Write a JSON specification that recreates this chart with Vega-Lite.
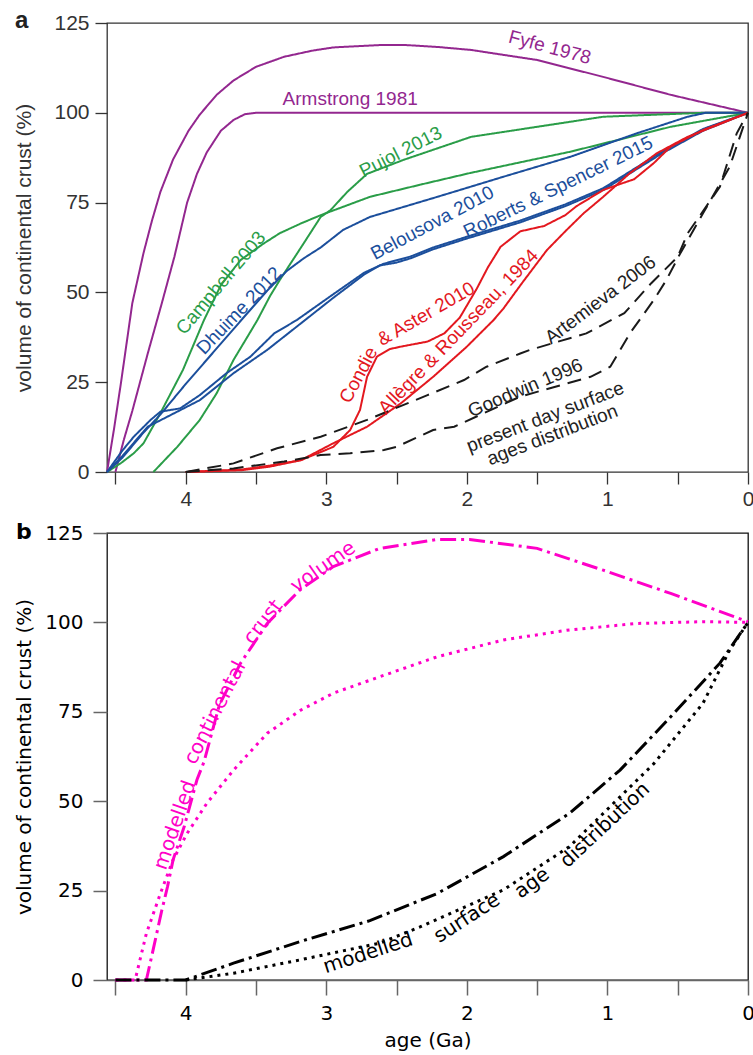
{
  "$schema": "https://vega.github.io/schema/vega-lite/v6.json",
  "padding": {"left": 13, "top": 8, "right": 5, "bottom": 5},
  "bounds": "flush",
  "spacing": 61,
  "background": "white",
  "resolve": {"scale": {"color": "independent", "strokeDash": "independent"}},
  "config": {"axis": {"grid": false}, "view": {"stroke": "#333", "strokeWidth": 1.3}},
  "datasets": {
    "curvesA": [
      {"s":"Fyfe 1978","age":4.56,"vol":0},{"s":"Fyfe 1978","age":4.51,"vol":12},{"s":"Fyfe 1978","age":4.46,"vol":25},{"s":"Fyfe 1978","age":4.38,"vol":47},{"s":"Fyfe 1978","age":4.30,"vol":61},{"s":"Fyfe 1978","age":4.24,"vol":70},{"s":"Fyfe 1978","age":4.18,"vol":78},{"s":"Fyfe 1978","age":4.09,"vol":87},{"s":"Fyfe 1978","age":3.98,"vol":95},{"s":"Fyfe 1978","age":3.90,"vol":99.5},{"s":"Fyfe 1978","age":3.78,"vol":105},{"s":"Fyfe 1978","age":3.66,"vol":109},{"s":"Fyfe 1978","age":3.50,"vol":112.8},{"s":"Fyfe 1978","age":3.30,"vol":115.6},{"s":"Fyfe 1978","age":3.10,"vol":117.3},{"s":"Fyfe 1978","age":2.95,"vol":118.2},{"s":"Fyfe 1978","age":2.60,"vol":118.9},{"s":"Fyfe 1978","age":2.45,"vol":118.9},{"s":"Fyfe 1978","age":2.20,"vol":118.3},{"s":"Fyfe 1978","age":1.97,"vol":117.5},{"s":"Fyfe 1978","age":1.50,"vol":114.7},{"s":"Fyfe 1978","age":1.03,"vol":110},{"s":"Fyfe 1978","age":0.55,"vol":105},{"s":"Fyfe 1978","age":0,"vol":100},
      {"s":"Armstrong 1981","age":4.50,"vol":0},{"s":"Armstrong 1981","age":4.44,"vol":9},{"s":"Armstrong 1981","age":4.38,"vol":17},{"s":"Armstrong 1981","age":4.27,"vol":33},{"s":"Armstrong 1981","age":4.17,"vol":47},{"s":"Armstrong 1981","age":4.08,"vol":60},{"s":"Armstrong 1981","age":3.99,"vol":75},{"s":"Armstrong 1981","age":3.92,"vol":83},{"s":"Armstrong 1981","age":3.85,"vol":89},{"s":"Armstrong 1981","age":3.75,"vol":95},{"s":"Armstrong 1981","age":3.66,"vol":98},{"s":"Armstrong 1981","age":3.58,"vol":99.6},{"s":"Armstrong 1981","age":3.50,"vol":100},{"s":"Armstrong 1981","age":0,"vol":100},
      {"s":"Campbell 2003","age":4.56,"vol":0},{"s":"Campbell 2003","age":4.46,"vol":2.5},{"s":"Campbell 2003","age":4.37,"vol":5.2},{"s":"Campbell 2003","age":4.30,"vol":8},{"s":"Campbell 2003","age":4.18,"vol":16.4},{"s":"Campbell 2003","age":4.02,"vol":28.4},{"s":"Campbell 2003","age":3.87,"vol":42.3},{"s":"Campbell 2003","age":3.75,"vol":52},{"s":"Campbell 2003","age":3.61,"vol":59},{"s":"Campbell 2003","age":3.45,"vol":63.5},{"s":"Campbell 2003","age":3.33,"vol":66.5},{"s":"Campbell 2003","age":3.18,"vol":69.2},{"s":"Campbell 2003","age":3.04,"vol":71.5},{"s":"Campbell 2003","age":2.69,"vol":76.6},{"s":"Campbell 2003","age":2.33,"vol":80},{"s":"Campbell 2003","age":1.97,"vol":83.3},{"s":"Campbell 2003","age":1.26,"vol":89.2},{"s":"Campbell 2003","age":0.55,"vol":96.1},{"s":"Campbell 2003","age":0,"vol":100},
      {"s":"Pujol 2013","age":4.23,"vol":0},{"s":"Pujol 2013","age":4.06,"vol":7},{"s":"Pujol 2013","age":3.90,"vol":14.5},{"s":"Pujol 2013","age":3.78,"vol":21.9},{"s":"Pujol 2013","age":3.66,"vol":31.2},{"s":"Pujol 2013","age":3.56,"vol":37.7},{"s":"Pujol 2013","age":3.49,"vol":42.3},{"s":"Pujol 2013","age":3.40,"vol":49},{"s":"Pujol 2013","age":3.33,"vol":53.5},{"s":"Pujol 2013","age":3.18,"vol":62.5},{"s":"Pujol 2013","age":3.04,"vol":71},{"s":"Pujol 2013","age":2.97,"vol":72.9},{"s":"Pujol 2013","age":2.85,"vol":78},{"s":"Pujol 2013","age":2.71,"vol":83},{"s":"Pujol 2013","age":2.45,"vol":86.9},{"s":"Pujol 2013","age":1.97,"vol":93.3},{"s":"Pujol 2013","age":1.50,"vol":96.1},{"s":"Pujol 2013","age":1.03,"vol":98.9},{"s":"Pujol 2013","age":0.32,"vol":100},{"s":"Pujol 2013","age":0,"vol":100},
      {"s":"Dhuime 2012","age":4.56,"vol":0},{"s":"Dhuime 2012","age":4.45,"vol":4},{"s":"Dhuime 2012","age":4.30,"vol":11},{"s":"Dhuime 2012","age":4.18,"vol":16},{"s":"Dhuime 2012","age":4.00,"vol":24.5},{"s":"Dhuime 2012","age":3.80,"vol":33.5},{"s":"Dhuime 2012","age":3.60,"vol":42.5},{"s":"Dhuime 2012","age":3.42,"vol":50.5},{"s":"Dhuime 2012","age":3.28,"vol":56},{"s":"Dhuime 2012","age":3.16,"vol":59.5},{"s":"Dhuime 2012","age":3.04,"vol":62.5},{"s":"Dhuime 2012","age":2.88,"vol":67.4},{"s":"Dhuime 2012","age":2.69,"vol":71},{"s":"Dhuime 2012","age":2.21,"vol":76.6},{"s":"Dhuime 2012","age":1.74,"vol":82.2},{"s":"Dhuime 2012","age":1.26,"vol":87.8},{"s":"Dhuime 2012","age":0.79,"vol":94.3},{"s":"Dhuime 2012","age":0.43,"vol":98.9},{"s":"Dhuime 2012","age":0.30,"vol":100},{"s":"Dhuime 2012","age":0,"vol":100},
      {"s":"Belousova 2010","age":4.56,"vol":0},{"s":"Belousova 2010","age":4.45,"vol":6},{"s":"Belousova 2010","age":4.37,"vol":9.8},{"s":"Belousova 2010","age":4.25,"vol":14.5},{"s":"Belousova 2010","age":4.18,"vol":16.8},{"s":"Belousova 2010","age":4.04,"vol":17.7},{"s":"Belousova 2010","age":3.90,"vol":21.4},{"s":"Belousova 2010","age":3.71,"vol":27.5},{"s":"Belousova 2010","age":3.54,"vol":32.1},{"s":"Belousova 2010","age":3.37,"vol":38.6},{"s":"Belousova 2010","age":3.21,"vol":42.3},{"s":"Belousova 2010","age":2.95,"vol":49.5},{"s":"Belousova 2010","age":2.73,"vol":55.5},{"s":"Belousova 2010","age":2.59,"vol":58},{"s":"Belousova 2010","age":2.40,"vol":60},{"s":"Belousova 2010","age":2.24,"vol":62.5},{"s":"Belousova 2010","age":2.00,"vol":65.5},{"s":"Belousova 2010","age":1.62,"vol":70},{"s":"Belousova 2010","age":1.30,"vol":74.5},{"s":"Belousova 2010","age":1.03,"vol":79},{"s":"Belousova 2010","age":0.62,"vol":89},{"s":"Belousova 2010","age":0.32,"vol":95.5},{"s":"Belousova 2010","age":0,"vol":100},
      {"s":"Roberts & Spencer 2015","age":4.56,"vol":0},{"s":"Roberts & Spencer 2015","age":4.45,"vol":4.5},{"s":"Roberts & Spencer 2015","age":4.27,"vol":12.6},{"s":"Roberts & Spencer 2015","age":4.13,"vol":15.4},{"s":"Roberts & Spencer 2015","age":3.90,"vol":20},{"s":"Roberts & Spencer 2015","age":3.66,"vol":27.5},{"s":"Roberts & Spencer 2015","age":3.42,"vol":34},{"s":"Roberts & Spencer 2015","age":3.18,"vol":41.4},{"s":"Roberts & Spencer 2015","age":2.95,"vol":48.5},{"s":"Roberts & Spencer 2015","age":2.73,"vol":55},{"s":"Roberts & Spencer 2015","age":2.62,"vol":57.5},{"s":"Roberts & Spencer 2015","age":2.50,"vol":58.3},{"s":"Roberts & Spencer 2015","age":2.40,"vol":59.5},{"s":"Roberts & Spencer 2015","age":2.24,"vol":62},{"s":"Roberts & Spencer 2015","age":2.00,"vol":65},{"s":"Roberts & Spencer 2015","age":1.62,"vol":69.5},{"s":"Roberts & Spencer 2015","age":1.30,"vol":74},{"s":"Roberts & Spencer 2015","age":1.03,"vol":78.5},{"s":"Roberts & Spencer 2015","age":0.62,"vol":88.5},{"s":"Roberts & Spencer 2015","age":0.32,"vol":95},{"s":"Roberts & Spencer 2015","age":0,"vol":100},
      {"s":"Condie & Aster 2010","age":4.00,"vol":0},{"s":"Condie & Aster 2010","age":3.60,"vol":0.5},{"s":"Condie & Aster 2010","age":3.40,"vol":1.5},{"s":"Condie & Aster 2010","age":3.18,"vol":3.3},{"s":"Condie & Aster 2010","age":2.95,"vol":7},{"s":"Condie & Aster 2010","age":2.83,"vol":11.7},{"s":"Condie & Aster 2010","age":2.76,"vol":17.3},{"s":"Condie & Aster 2010","age":2.71,"vol":26.5},{"s":"Condie & Aster 2010","age":2.64,"vol":32.1},{"s":"Condie & Aster 2010","age":2.55,"vol":34.2},{"s":"Condie & Aster 2010","age":2.47,"vol":34.9},{"s":"Condie & Aster 2010","age":2.28,"vol":36.3},{"s":"Condie & Aster 2010","age":2.16,"vol":38.6},{"s":"Condie & Aster 2010","age":2.05,"vol":43},{"s":"Condie & Aster 2010","age":1.93,"vol":51},{"s":"Condie & Aster 2010","age":1.85,"vol":57},{"s":"Condie & Aster 2010","age":1.76,"vol":62.7},{"s":"Condie & Aster 2010","age":1.62,"vol":67},{"s":"Condie & Aster 2010","age":1.45,"vol":68.5},{"s":"Condie & Aster 2010","age":1.30,"vol":71.5},{"s":"Condie & Aster 2010","age":1.22,"vol":74},{"s":"Condie & Aster 2010","age":1.03,"vol":78.5},{"s":"Condie & Aster 2010","age":0.90,"vol":80.3},{"s":"Condie & Aster 2010","age":0.81,"vol":81.5},{"s":"Condie & Aster 2010","age":0.67,"vol":86},{"s":"Condie & Aster 2010","age":0.55,"vol":90.6},{"s":"Condie & Aster 2010","age":0.32,"vol":95.2},{"s":"Condie & Aster 2010","age":0,"vol":100},
      {"s":"Allègre & Rousseau 1984","age":4.00,"vol":0},{"s":"Allègre & Rousseau 1984","age":3.60,"vol":0.7},{"s":"Allègre & Rousseau 1984","age":3.40,"vol":1.8},{"s":"Allègre & Rousseau 1984","age":3.18,"vol":3.3},{"s":"Allègre & Rousseau 1984","age":2.95,"vol":8},{"s":"Allègre & Rousseau 1984","age":2.71,"vol":12.6},{"s":"Allègre & Rousseau 1984","age":2.47,"vol":19.1},{"s":"Allègre & Rousseau 1984","age":2.24,"vol":26.5},{"s":"Allègre & Rousseau 1984","age":2.00,"vol":34.9},{"s":"Allègre & Rousseau 1984","age":1.81,"vol":42.3},{"s":"Allègre & Rousseau 1984","age":1.74,"vol":45.5},{"s":"Allègre & Rousseau 1984","age":1.60,"vol":53},{"s":"Allègre & Rousseau 1984","age":1.43,"vol":61.8},{"s":"Allègre & Rousseau 1984","age":1.30,"vol":67},{"s":"Allègre & Rousseau 1984","age":1.17,"vol":72},{"s":"Allègre & Rousseau 1984","age":1.03,"vol":76.6},{"s":"Allègre & Rousseau 1984","age":0.84,"vol":83.2},{"s":"Allègre & Rousseau 1984","age":0.65,"vol":88.7},{"s":"Allègre & Rousseau 1984","age":0.43,"vol":93.3},{"s":"Allègre & Rousseau 1984","age":0,"vol":100},
      {"s":"Artemieva 2006","age":4.00,"vol":0},{"s":"Artemieva 2006","age":3.66,"vol":2.4},{"s":"Artemieva 2006","age":3.35,"vol":6.6},{"s":"Artemieva 2006","age":3.04,"vol":9.8},{"s":"Artemieva 2006","age":2.71,"vol":14.5},{"s":"Artemieva 2006","age":2.28,"vol":21.4},{"s":"Artemieva 2006","age":2.02,"vol":25.6},{"s":"Artemieva 2006","age":1.86,"vol":29.3},{"s":"Artemieva 2006","age":1.62,"vol":33},{"s":"Artemieva 2006","age":1.55,"vol":34},{"s":"Artemieva 2006","age":1.15,"vol":38.6},{"s":"Artemieva 2006","age":0.88,"vol":44.2},{"s":"Artemieva 2006","age":0.69,"vol":52.5},{"s":"Artemieva 2006","age":0.50,"vol":59.9},{"s":"Artemieva 2006","age":0.43,"vol":66.4},{"s":"Artemieva 2006","age":0.20,"vol":79.4},{"s":"Artemieva 2006","age":0.08,"vol":94.3},{"s":"Artemieva 2006","age":0,"vol":100},
      {"s":"Goodwin 1996","age":4.00,"vol":0},{"s":"Goodwin 1996","age":3.66,"vol":1},{"s":"Goodwin 1996","age":3.30,"vol":2.9},{"s":"Goodwin 1996","age":3.04,"vol":4.7},{"s":"Goodwin 1996","age":2.83,"vol":5.2},{"s":"Goodwin 1996","age":2.59,"vol":6.1},{"s":"Goodwin 1996","age":2.50,"vol":7},{"s":"Goodwin 1996","age":2.24,"vol":11.7},{"s":"Goodwin 1996","age":2.09,"vol":12.6},{"s":"Goodwin 1996","age":1.62,"vol":21},{"s":"Goodwin 1996","age":1.12,"vol":26.5},{"s":"Goodwin 1996","age":0.98,"vol":29.3},{"s":"Goodwin 1996","age":0.84,"vol":38.6},{"s":"Goodwin 1996","age":0.67,"vol":47.9},{"s":"Goodwin 1996","age":0.58,"vol":53.5},{"s":"Goodwin 1996","age":0.48,"vol":61},{"s":"Goodwin 1996","age":0.32,"vol":72},{"s":"Goodwin 1996","age":0.13,"vol":85},{"s":"Goodwin 1996","age":0,"vol":100}
    ],
    "curvesB": [
      {"s":"crust dash-dot","age":4.50,"vol":0},{"s":"crust dash-dot","age":4.28,"vol":0},{"s":"crust dash-dot","age":4.24,"vol":7},{"s":"crust dash-dot","age":4.17,"vol":19.5},{"s":"crust dash-dot","age":4.13,"vol":26},{"s":"crust dash-dot","age":4.09,"vol":33.6},{"s":"crust dash-dot","age":4.01,"vol":43},{"s":"crust dash-dot","age":3.92,"vol":56},{"s":"crust dash-dot","age":3.87,"vol":61},{"s":"crust dash-dot","age":3.76,"vol":77},{"s":"crust dash-dot","age":3.61,"vol":88.6},{"s":"crust dash-dot","age":3.42,"vol":99.7},{"s":"crust dash-dot","age":3.19,"vol":109},{"s":"crust dash-dot","age":2.95,"vol":115.6},{"s":"crust dash-dot","age":2.62,"vol":120.7},{"s":"crust dash-dot","age":2.21,"vol":123.2},{"s":"crust dash-dot","age":1.98,"vol":123.2},{"s":"crust dash-dot","age":1.50,"vol":120.7},{"s":"crust dash-dot","age":1.03,"vol":114.6},{"s":"crust dash-dot","age":0.55,"vol":108.1},{"s":"crust dash-dot","age":0,"vol":100.2},
      {"s":"crust dotted","age":4.50,"vol":0},{"s":"crust dotted","age":4.36,"vol":0},{"s":"crust dotted","age":4.28,"vol":13},{"s":"crust dotted","age":4.18,"vol":24.2},{"s":"crust dotted","age":4.09,"vol":33.6},{"s":"crust dotted","age":3.99,"vol":41},{"s":"crust dotted","age":3.85,"vol":49.4},{"s":"crust dotted","age":3.66,"vol":58.7},{"s":"crust dotted","age":3.42,"vol":69},{"s":"crust dotted","age":3.18,"vol":75.5},{"s":"crust dotted","age":2.95,"vol":80.2},{"s":"crust dotted","age":2.62,"vol":84.8},{"s":"crust dotted","age":2.21,"vol":90.4},{"s":"crust dotted","age":1.74,"vol":95.1},{"s":"crust dotted","age":1.27,"vol":97.9},{"s":"crust dotted","age":0.79,"vol":99.7},{"s":"crust dotted","age":0.32,"vol":100.2},{"s":"crust dotted","age":0,"vol":100},
      {"s":"surface dash-dot","age":4.50,"vol":0},{"s":"surface dash-dot","age":4.00,"vol":0},{"s":"surface dash-dot","age":3.66,"vol":4.7},{"s":"surface dash-dot","age":3.19,"vol":10.7},{"s":"surface dash-dot","age":2.69,"vol":16.6},{"s":"surface dash-dot","age":2.21,"vol":24.2},{"s":"surface dash-dot","age":1.74,"vol":34.5},{"s":"surface dash-dot","age":1.27,"vol":46.6},{"s":"surface dash-dot","age":0.91,"vol":58.7},{"s":"surface dash-dot","age":0.55,"vol":73.6},{"s":"surface dash-dot","age":0.20,"vol":88.6},{"s":"surface dash-dot","age":0,"vol":100},
      {"s":"surface dotted","age":4.00,"vol":0},{"s":"surface dotted","age":3.66,"vol":1.9},{"s":"surface dotted","age":3.19,"vol":5.6},{"s":"surface dotted","age":2.62,"vol":10.3},{"s":"surface dotted","age":2.33,"vol":14.9},{"s":"surface dotted","age":1.74,"vol":25.2},{"s":"surface dotted","age":1.27,"vol":37.3},{"s":"surface dotted","age":0.67,"vol":60.5},{"s":"surface dotted","age":0.32,"vol":77.4},{"s":"surface dotted","age":0.13,"vol":92.3},{"s":"surface dotted","age":0,"vol":100}
    ]
  },
  "vconcat": [
    {
      "width": 641,
      "height": 449,
      "title": {"text": "a", "anchor": "start", "frame": "group", "orient": "top", "offset": 0, "dx": -92, "dy": 40, "baseline": "alphabetic", "font": "Liberation Sans", "fontSize": 24, "fontWeight": "bold", "color": "#222"},
      "encoding": {
        "x": {"field": "age", "type": "quantitative",
          "scale": {"domain": [0, 4.56], "reverse": true, "nice": false, "zero": false},
          "axis": {"values": [0,0.5,1,1.5,2,2.5,3,3.5,4,4.5], "labelExpr": "datum.value % 1 === 0 ? format(datum.value, 'd') : ''", "title": null, "domain": false, "tickSize": 12, "tickWidth": 1.3, "tickColor": "#333", "labelFont": "Liberation Sans", "labelFontSize": 21, "labelColor": "#333", "labelPadding": 4, "labelFlush": false}},
        "y": {"field": "vol", "type": "quantitative",
          "scale": {"domain": [0, 125], "nice": false},
          "axis": {"values": [0,25,50,75,100,125], "title": "volume of continental crust (%)", "domain": false, "tickSize": 12, "tickWidth": 1.3, "tickColor": "#333", "labelFont": "Liberation Sans", "labelFontSize": 21, "labelColor": "#333", "labelPadding": 6, "titleFont": "Liberation Sans", "titleFontSize": 21, "titleFontWeight": "normal", "titleColor": "#333", "titlePadding": 19}}
      },
      "layer": [
        {
          "data": {"name": "curvesA"},
          "mark": {"type": "line", "strokeWidth": 2},
          "encoding": {
            "color": {"field": "s", "type": "nominal", "legend": null,
              "scale": {"domain": ["Fyfe 1978","Armstrong 1981","Campbell 2003","Pujol 2013","Dhuime 2012","Belousova 2010","Roberts & Spencer 2015","Condie & Aster 2010","Allègre & Rousseau 1984","Artemieva 2006","Goodwin 1996"],
                "range": ["#93278f","#93278f","#2a9d48","#2a9d48","#1c4f9c","#1c4f9c","#1c4f9c","#e3181f","#e3181f","#1a1a1a","#1a1a1a"]}},
            "strokeDash": {"field": "s", "type": "nominal", "legend": null,
              "scale": {"domain": ["Fyfe 1978","Armstrong 1981","Campbell 2003","Pujol 2013","Dhuime 2012","Belousova 2010","Roberts & Spencer 2015","Condie & Aster 2010","Allègre & Rousseau 1984","Artemieva 2006","Goodwin 1996"],
                "range": [[1,0],[1,0],[1,0],[1,0],[1,0],[1,0],[1,0],[1,0],[1,0],[14,8],[14,8]]}}
          }
        },
        {"data": {"values": [{"t": "Fyfe 1978", "age": 1.41, "vol": 118.2}]}, "mark": {"type": "text", "angle": 15, "color": "#93278f", "font": "Liberation Sans", "fontSize": 19}, "encoding": {"text": {"field": "t"}}},
        {"data": {"values": [{"t": "Armstrong 1981", "age": 2.83, "vol": 103.8}]}, "mark": {"type": "text", "angle": 0, "color": "#93278f", "font": "Liberation Sans", "fontSize": 19}, "encoding": {"text": {"field": "t"}}},
        {"data": {"values": [{"t": "Pujol 2013", "age": 2.47, "vol": 89.1}]}, "mark": {"type": "text", "angle": -27, "color": "#2a9d48", "font": "Liberation Sans", "fontSize": 19}, "encoding": {"text": {"field": "t"}}},
        {"data": {"values": [{"t": "Campbell 2003", "age": 3.75, "vol": 52.6}]}, "mark": {"type": "text", "angle": -50, "color": "#2a9d48", "font": "Liberation Sans", "fontSize": 19}, "encoding": {"text": {"field": "t"}}},
        {"data": {"values": [{"t": "Dhuime 2012", "age": 3.62, "vol": 44.9}]}, "mark": {"type": "text", "angle": -46, "color": "#1c4f9c", "font": "Liberation Sans", "fontSize": 19}, "encoding": {"text": {"field": "t"}}},
        {"data": {"values": [{"t": "Belousova 2010", "age": 2.245, "vol": 69.3}]}, "mark": {"type": "text", "angle": -28, "color": "#1c4f9c", "font": "Liberation Sans", "fontSize": 19}, "encoding": {"text": {"field": "t"}}},
        {"data": {"values": [{"t": "Roberts & Spencer 2015", "age": 1.35, "vol": 79.3}]}, "mark": {"type": "text", "angle": -26, "color": "#1c4f9c", "font": "Liberation Sans", "fontSize": 19}, "encoding": {"text": {"field": "t"}}},
        {"data": {"values": [{"t": "Condie", "age": 2.77, "vol": 27.0}]}, "mark": {"type": "text", "angle": -62, "color": "#e3181f", "font": "Liberation Sans", "fontSize": 19}, "encoding": {"text": {"field": "t"}}},
        {"data": {"values": [{"t": "& Aster 2010", "age": 2.29, "vol": 44.0}]}, "mark": {"type": "text", "angle": -30, "color": "#e3181f", "font": "Liberation Sans", "fontSize": 19}, "encoding": {"text": {"field": "t"}}},
        {"data": {"values": [{"t": "Allègre & Rousseau, 1984", "age": 2.061, "vol": 39.0}]}, "mark": {"type": "text", "angle": -46, "color": "#e3181f", "font": "Liberation Sans", "fontSize": 19}, "encoding": {"text": {"field": "t"}}},
        {"data": {"values": [{"t": "Artemieva 2006", "age": 1.05, "vol": 47.9}]}, "mark": {"type": "text", "angle": -37, "color": "#222", "font": "Liberation Sans", "fontSize": 19}, "encoding": {"text": {"field": "t"}}},
        {"data": {"values": [{"t": "Goodwin 1996", "age": 1.584, "vol": 23.4}]}, "mark": {"type": "text", "angle": -23, "color": "#222", "font": "Liberation Sans", "fontSize": 19}, "encoding": {"text": {"field": "t"}}},
        {"data": {"values": [{"t": "present day surface", "age": 1.442, "vol": 15.3}]}, "mark": {"type": "text", "angle": -21, "color": "#222", "font": "Liberation Sans", "fontSize": 19}, "encoding": {"text": {"field": "t"}}},
        {"data": {"values": [{"t": "ages distribution", "age": 1.392, "vol": 10.3}]}, "mark": {"type": "text", "angle": -21, "color": "#222", "font": "Liberation Sans", "fontSize": 19}, "encoding": {"text": {"field": "t"}}}
      ]
    },
    {
      "width": 641,
      "height": 447,
      "view": {"stroke": "#111", "strokeWidth": 1.3},
      "title": {"text": "b", "anchor": "start", "frame": "group", "orient": "top", "offset": 0, "dx": -91, "dy": 38, "baseline": "alphabetic", "font": "DejaVu Sans", "fontSize": 22, "fontWeight": "bold", "color": "#000"},
      "encoding": {
        "x": {"field": "age", "type": "quantitative",
          "scale": {"domain": [0, 4.56], "reverse": true, "nice": false, "zero": false},
          "axis": {"values": [0,0.5,1,1.5,2,2.5,3,3.5,4,4.5], "labelExpr": "datum.value % 1 === 0 ? format(datum.value, 'd') : ''", "title": "age (Ga)", "domain": true, "domainColor": "#666", "domainWidth": 1.5, "tickSize": 15, "tickWidth": 1.5, "tickColor": "#666", "labelFont": "DejaVu Sans", "labelFontSize": 20, "labelColor": "#000", "labelPadding": 8, "labelFlush": false, "titleFont": "DejaVu Sans", "titleFontSize": 20, "titleFontWeight": "normal", "titleColor": "#000", "titlePadding": 7}},
        "y": {"field": "vol", "type": "quantitative",
          "scale": {"domain": [0, 125], "nice": false},
          "axis": {"values": [0,25,50,75,100,125], "title": "volume of continental crust (%)", "domain": false, "tickSize": 14, "tickWidth": 1.5, "tickColor": "#666", "labelFont": "DejaVu Sans", "labelFontSize": 20, "labelColor": "#000", "labelPadding": 10, "titleFont": "DejaVu Sans", "titleFontSize": 20, "titleFontWeight": "normal", "titleColor": "#000", "titlePadding": 10}}
      },
      "layer": [
        {
          "data": {"name": "curvesB"},
          "mark": {"type": "line", "strokeWidth": 3},
          "encoding": {
            "color": {"field": "s", "type": "nominal", "legend": null,
              "scale": {"domain": ["crust dash-dot","crust dotted","surface dash-dot","surface dotted"], "range": ["#ff00c8","#ff00c8","#000000","#000000"]}},
            "strokeDash": {"field": "s", "type": "nominal", "legend": null,
              "scale": {"domain": ["crust dash-dot","crust dotted","surface dash-dot","surface dotted"], "range": [[16,5,3,5],[3,5],[16,5,3,5],[3,5]]}}
          }
        },
        {"data": {"values": [{"t": "modelled", "age": 4.075, "vol": 43.3}]}, "mark": {"type": "text", "angle": -71, "color": "#ff00c8", "font": "DejaVu Sans", "fontSize": 20}, "encoding": {"text": {"field": "t"}}},
        {"data": {"values": [{"t": "continental", "age": 3.791, "vol": 74.7}]}, "mark": {"type": "text", "angle": -63, "color": "#ff00c8", "font": "DejaVu Sans", "fontSize": 20}, "encoding": {"text": {"field": "t"}}},
        {"data": {"values": [{"t": "crust", "age": 3.449, "vol": 100.1}]}, "mark": {"type": "text", "angle": -52, "color": "#ff00c8", "font": "DejaVu Sans", "fontSize": 20}, "encoding": {"text": {"field": "t"}}},
        {"data": {"values": [{"t": "volume", "age": 3.023, "vol": 115.5}]}, "mark": {"type": "text", "angle": -35, "color": "#ff00c8", "font": "DejaVu Sans", "fontSize": 20}, "encoding": {"text": {"field": "t"}}},
        {"data": {"values": [{"t": "modelled", "age": 2.703, "vol": 7.5}]}, "mark": {"type": "text", "angle": -18, "color": "#000", "font": "DejaVu Sans", "fontSize": 20}, "encoding": {"text": {"field": "t"}}},
        {"data": {"values": [{"t": "surface", "age": 1.999, "vol": 17.3}]}, "mark": {"type": "text", "angle": -33, "color": "#000", "font": "DejaVu Sans", "fontSize": 20}, "encoding": {"text": {"field": "t"}}},
        {"data": {"values": [{"t": "age", "age": 1.536, "vol": 27.1}]}, "mark": {"type": "text", "angle": -36, "color": "#000", "font": "DejaVu Sans", "fontSize": 20}, "encoding": {"text": {"field": "t"}}},
        {"data": {"values": [{"t": "distribution", "age": 1.017, "vol": 43.3}]}, "mark": {"type": "text", "angle": -43, "color": "#000", "font": "DejaVu Sans", "fontSize": 20}, "encoding": {"text": {"field": "t"}}}
      ]
    }
  ]
}
